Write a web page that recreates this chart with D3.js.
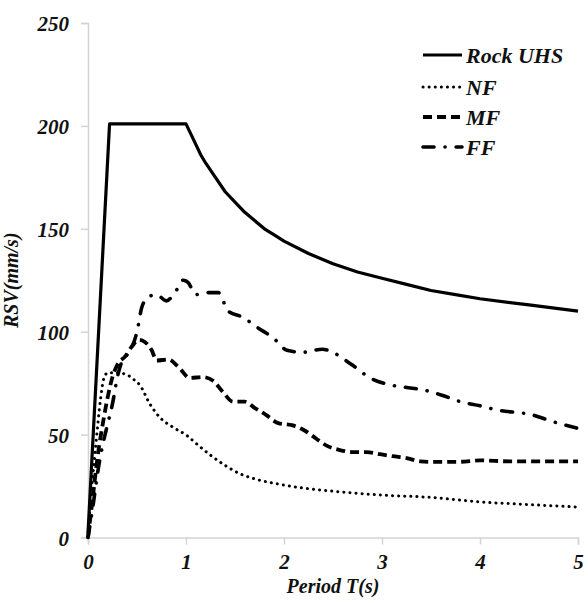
<!DOCTYPE html>
<html>
<head>
<meta charset="utf-8">
<script src="https://cdn.jsdelivr.net/npm/d3@7"></script>
<style>
  body { margin: 0; background: #fff; }
  text { font-family: "Liberation Serif", "Times New Roman", serif; font-weight: bold; font-style: italic; fill: #111; }
</style>
</head>
<body>
<div id="chart"></div>
<script>
// period T (s), RSV (mm/s)
let rockUHS = [[0,2],[0.22,201],[1.0,201],[1.05,196],[1.1,191],[1.15,186],[1.2,182],[1.3,175],[1.4,168],
    [1.5,163],[1.6,158],[1.7,154],[1.8,150],[1.9,147],[2.0,144],[2.25,138],[2.5,133],[2.75,129],[3.0,126],
    [3.25,123],[3.5,120],[3.75,118],[4.0,116],[4.5,113],[5.0,110]];

let nf = [[0,0],[0.03,20],[0.07,40],[0.1,55],[0.13,68],[0.16,77],[0.2,80],[0.3,80],[0.4,79],[0.46,77],
    [0.53,74],[0.63,65],[0.73,58.5],[0.87,53.5],[1.01,49.5],[1.12,45],[1.25,40],[1.4,35],[1.55,31],[1.7,28.5],
    [2.0,25.5],[2.2,24],[2.5,22.5],[3.0,20.6],[3.5,19.5],[4.0,17.3],[4.5,16],[5.0,14.8]];

let mf = [[0,0],[0.05,20],[0.1,40],[0.15,55],[0.2,68],[0.25,78],[0.3,84],[0.38,88],[0.45,93],[0.52,96],
    [0.58,95],[0.65,91],[0.7,86],[0.82,86.5],[0.92,83],[1.04,77.5],[1.17,78],[1.28,76],[1.38,70.5],[1.48,66],
    [1.6,66],[1.7,63],[1.82,59.5],[1.94,55.6],[2.08,54.6],[2.21,52],[2.33,48],[2.44,44.5],[2.57,42.5],[2.71,41.5],
    [2.84,41.5],[2.98,40.5],[3.11,39.5],[3.25,38.6],[3.39,37],[3.52,36.7],[3.8,36.8],[4.0,37.5],[4.3,37],[4.6,37],[5.0,37]];

let ff = [[0,0],[0.05,15],[0.1,32],[0.15,45],[0.2,55],[0.25,65],[0.3,78],[0.35,86],[0.42,90],[0.5,100],
    [0.55,112],[0.62,117],[0.7,118],[0.8,115],[0.9,120],[0.97,125],[1.02,124],[1.1,118],[1.2,119],[1.33,119],
    [1.43,110],[1.58,107],[1.73,102],[1.89,97],[2.03,91],[2.19,90],[2.39,91.5],[2.5,90],[2.6,87],[2.72,83],
    [2.88,77.5],[3.05,74.5],[3.24,73],[3.44,71.5],[3.62,69],[3.8,66],[4.0,64],[4.17,62],[4.54,59.5],[4.73,56.5],[5.0,53]];

let xTicks = [0, 1, 2, 3, 4, 5];
let yTicks = [0, 50, 100, 150, 200, 250];

let series = [
    {name: "Rock UHS", values: rockUHS, width: 3.2, dash: null, cap: "butt", curve: d3.curveLinear},
    {name: "NF", values: nf, width: 3, dash: "0.1,6", cap: "round", curve: d3.curveMonotoneX},
    {name: "MF", values: mf, width: 3.8, dash: "9,5", cap: "butt", curve: d3.curveMonotoneX},
    {name: "FF", values: ff, width: 3.6, dash: "11,11,0.1,11", cap: "round", curve: d3.curveMonotoneX}
];

let margin = {top: 23, right: 10, bottom: 65.5, left: 88},
    width = 588 - margin.left - margin.right,
    height = 603 - margin.top - margin.bottom;

let svg = d3.select("#chart")
    .append("svg")
        .attr("width", 588)
        .attr("height", 603)
    .append("g")
        .attr("transform", `translate(${margin.left},${margin.top})`);

let x = d3.scaleLinear().domain([0, 5]).range([0, 490]);
let y = d3.scaleLinear().domain([0, 250]).range([height, 0]);

let axisColor = "#d4d4d4";

let xAxis = svg.append("g")
    .attr("transform", `translate(0,${height})`)
    .call(d3.axisBottom(x).tickValues(xTicks).tickSize(7).tickPadding(10).tickFormat(d3.format("d")));
let yAxis = svg.append("g")
    .call(d3.axisLeft(y).tickValues(yTicks).tickSize(7).tickPadding(12).tickFormat(d3.format("d")));

[xAxis, yAxis].forEach(a => {
    a.select(".domain").attr("stroke", axisColor).attr("stroke-width", 1.5);
    a.selectAll(".tick line").attr("stroke", axisColor).attr("stroke-width", 1.5);
    a.selectAll(".tick text")
        .attr("font-family", null)
        .attr("font-size", 21)
        .attr("fill", "#111");
});
yAxis.selectAll(".tick text").attr("dy", "0.38em");

svg.append("text")
    .attr("x", x(2.5))
    .attr("y", height + 55)
    .attr("text-anchor", "middle")
    .attr("font-size", 20)
    .text("Period T(s)");

svg.append("text")
    .attr("transform", `translate(${-70},${height / 2}) rotate(-90)`)
    .attr("text-anchor", "middle")
    .attr("font-size", 20)
    .text("RSV(mm/s)");

series.forEach(s => {
    svg.append("path")
        .datum(s.values)
        .attr("fill", "none")
        .attr("stroke", "#000")
        .attr("stroke-width", s.width)
        .attr("stroke-dasharray", s.dash)
        .attr("stroke-linecap", s.cap)
        .attr("stroke-linejoin", "round")
        .attr("d", d3.line().x(d => x(d[0])).y(d => y(d[1])).curve(s.curve));
});

// legend
let legend = svg.append("g").attr("transform", `translate(${423 - margin.left},${55 - margin.top})`);
let legendRows = [0, 32, 62, 92];
series.forEach((s, i) => {
    let row = legend.append("g").attr("transform", `translate(0,${legendRows[i]})`);
    row.append("line")
        .attr("x1", 0).attr("x2", 39)
        .attr("stroke", "#000")
        .attr("stroke-width", s.width)
        .attr("stroke-dasharray", s.dash)
        .attr("stroke-linecap", s.cap);
    row.append("text")
        .attr("x", 43)
        .attr("y", 7.5)
        .attr("font-size", 22)
        .text(s.name);
});
</script>
</body>
</html>
